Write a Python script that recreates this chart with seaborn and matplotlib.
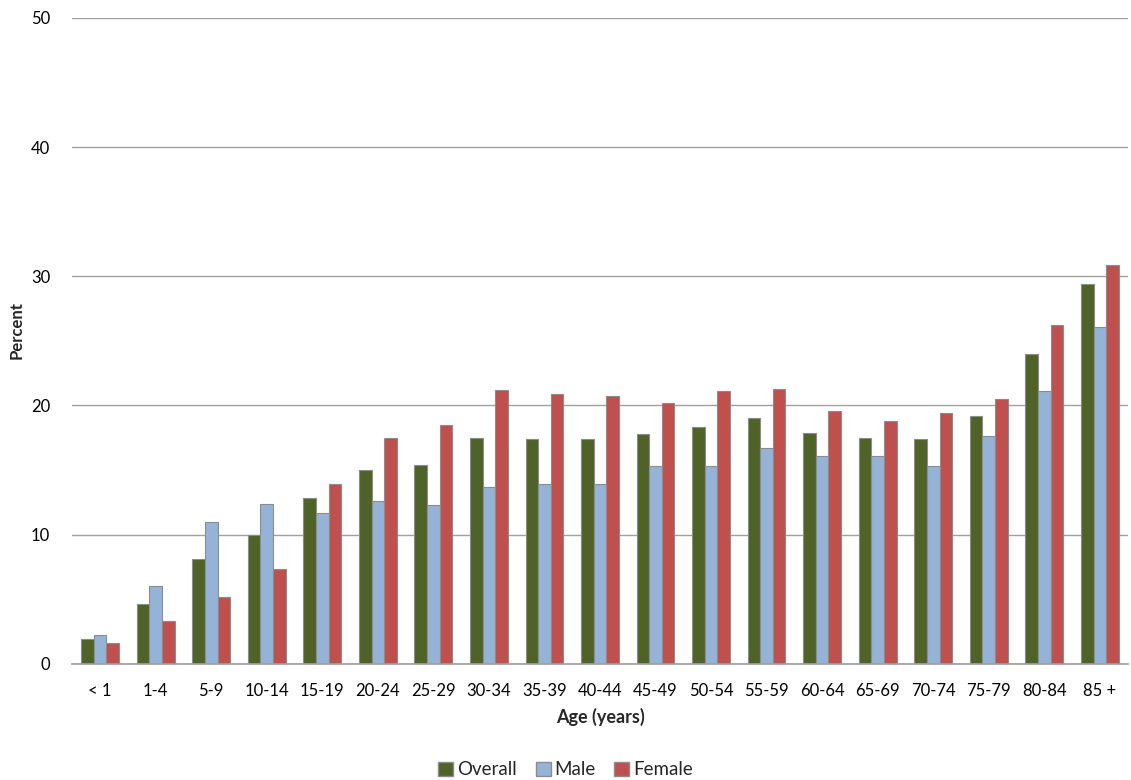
import matplotlib
matplotlib.use("Agg")
import matplotlib.pyplot as plt
import seaborn as sns
import pandas as pd
from matplotlib.patches import Patch

ages = ["< 1", "1-4", "5-9", "10-14", "15-19", "20-24", "25-29", "30-34", "35-39",
        "40-44", "45-49", "50-54", "55-59", "60-64", "65-69", "70-74", "75-79",
        "80-84", "85 +"]
overall = [1.9, 4.6, 8.1, 10.0, 12.8, 15.0, 15.4, 17.5, 17.4, 17.4, 17.8, 18.3,
           19.0, 17.9, 17.5, 17.4, 19.2, 24.0, 29.4]
male = [2.2, 6.0, 11.0, 12.4, 11.7, 12.6, 12.3, 13.7, 13.9, 13.9, 15.3, 15.3,
        16.7, 16.1, 16.1, 15.3, 17.6, 21.1, 26.1]
female = [1.6, 3.3, 5.2, 7.3, 13.9, 17.5, 18.5, 21.2, 20.9, 20.7, 20.2, 21.1,
          21.3, 19.6, 18.8, 19.4, 20.5, 26.2, 30.9]
series = ["Overall", "Male", "Female"]
colors = ["#4F6228", "#95B3D7", "#C0504D"]

rows = []
for i, a in enumerate(ages):
    for s, vals in zip(series, [overall, male, female]):
        rows.append({"Age": a, "Series": s, "Percent": vals[i]})
df = pd.DataFrame(rows)

sns.set_theme(style="white")
plt.rcParams['font.family'] = ['Lato', 'DejaVu Sans']

fig = plt.figure(figsize=(11.31, 7.8), dpi=100)
ax = fig.add_axes([0.064, 0.149, 0.933, 0.828])

sns.barplot(data=df, x="Age", y="Percent", hue="Series", order=ages,
            hue_order=series, palette=colors, width=0.68, ax=ax,
            edgecolor="#8C8C8C", linewidth=0.8, legend=False, saturation=1)

ax.set_ylim(0, 50)
ax.set_yticks([0, 10, 20, 30, 40, 50])
ax.set_xlim(-0.5, len(ages) - 0.5)
ax.yaxis.grid(True, color="#A0A0A0", linewidth=1)
ax.set_axisbelow(True)
for sp in ["top", "right", "left"]:
    ax.spines[sp].set_visible(False)
ax.spines["bottom"].set_color("#A0A0A0")
ax.tick_params(axis="both", length=0, labelsize=12, colors="black")
ax.tick_params(axis="x", pad=14)
ax.tick_params(axis="y", pad=16)

ax.set_xlabel("Age (years)", fontsize=13, fontweight="bold")
ax.xaxis.set_label_coords(0.5, -0.068)
ax.set_ylabel("Percent", fontsize=12, fontweight="bold")
ax.yaxis.set_label_coords(-0.045, 0.517)

handles = [Patch(facecolor=c, edgecolor="#8C8C8C", label=s) for s, c in zip(series, colors)]
fig.legend(handles=handles, loc="center", bbox_to_anchor=(0.5, 0.013), ncol=3,
           frameon=False, fontsize=13.5, handlelength=0.8, handleheight=0.8,
           handletextpad=0.2, columnspacing=1.0)

fig.savefig("out.png", dpi=100)
